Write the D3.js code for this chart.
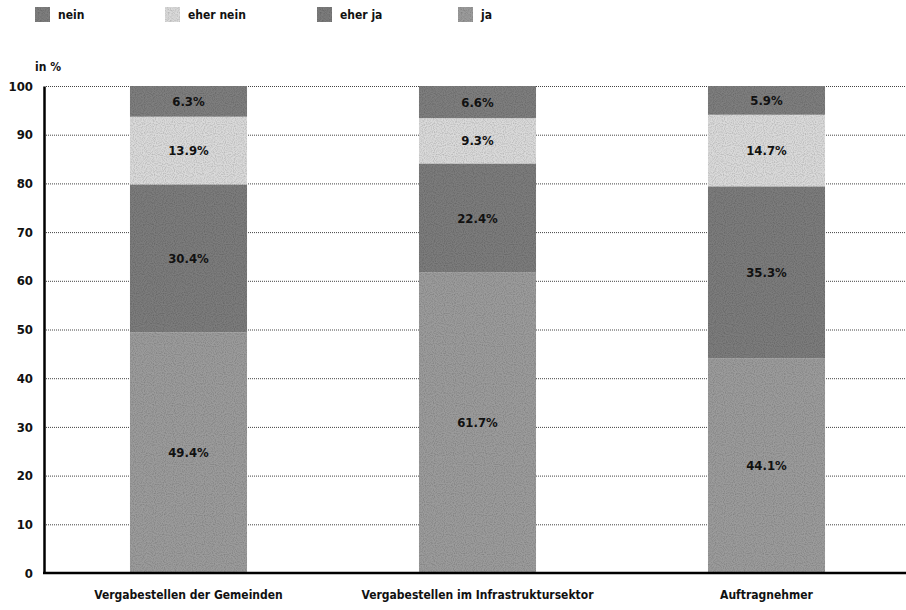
<!DOCTYPE html>
<html>
<head>
<meta charset="utf-8">
<script src="https://cdn.jsdelivr.net/npm/d3@7/dist/d3.min.js"></script>
<style>
  html, body { margin: 0; padding: 0; background: #fff; }
  svg { display: block; }
  text { font-family: "DejaVu Sans Condensed", "Liberation Sans Narrow", sans-serif; font-weight: bold; }
</style>
</head>
<body>
<svg id="chart" width="906" height="610"></svg>
<script>
// Survey answers, shares in percent
const categories = ["Vergabestellen der Gemeinden", "Vergabestellen im Infrastruktursektor", "Auftragnehmer"];
const seriesNames = ["ja", "eher ja", "eher nein", "nein"];   // stacked bottom to top
const ja       = [49.4, 61.7, 44.1];
const eherJa   = [30.4, 22.4, 35.3];
const eherNein = [13.9, 9.3, 14.7];
const nein     = [6.3, 6.6, 5.9];
const yTicks   = [0, 10, 20, 30, 40, 50, 60, 70, 80, 90, 100];
const legendOrder = ["nein", "eher nein", "eher ja", "ja"];

const seriesValues = { "ja": ja, "eher ja": eherJa, "eher nein": eherNein, "nein": nein };
const colors = { "ja": "#9b9b9b", "eher ja": "#7b7b7b", "eher nein": "#dadada", "nein": "#7e7e7e" };

const svg = d3.select("#chart");
const W = 906;
const margin = { left: 44, right: -5, top: 86, bottom: 573 };

// Grain texture for the bar fills
const defs = svg.append("defs");
const f = defs.append("filter").attr("id", "grain").attr("x", 0).attr("y", 0).attr("width", 1).attr("height", 1);
f.append("feTurbulence").attr("type", "fractalNoise").attr("baseFrequency", 0.9).attr("numOctaves", 1).attr("seed", 3).attr("result", "noise");
f.append("feColorMatrix").attr("in", "noise").attr("type", "matrix")
  .attr("values", "0 0 0 0 0  0 0 0 0 0  0 0 0 0 0  0 0 0 -2.2 1.35").attr("result", "dark");
f.append("feComposite").attr("in", "dark").attr("in2", "SourceGraphic").attr("operator", "in").attr("result", "darkIn");
f.append("feComponentTransfer").attr("in", "darkIn").attr("result", "darkSoft")
  .append("feFuncA").attr("type", "linear").attr("slope", 0.35);
const merge = f.append("feMerge");
merge.append("feMergeNode").attr("in", "SourceGraphic");
merge.append("feMergeNode").attr("in", "darkSoft");

const x = d3.scaleBand()
  .domain(categories)
  .range([44, 911])
  .paddingInner(0.595)
  .paddingOuter(0.2975);

const y = d3.scaleLinear().domain([0, 100]).range([573, 86]);

// Dotted grid lines
svg.append("g")
  .selectAll("line")
  .data(yTicks.filter(t => t > 0))
  .join("line")
  .attr("x1", 46).attr("x2", W)
  .attr("y1", d => y(d) + 0.5).attr("y2", d => y(d) + 0.5)
  .attr("stroke", "#444")
  .attr("stroke-width", 1)
  .attr("stroke-dasharray", "1,1");

// Stacked bars
const rows = categories.map((c, i) => {
  const r = { category: c };
  seriesNames.forEach(s => r[s] = seriesValues[s][i]);
  return r;
});
const stacked = d3.stack().keys(seriesNames)(rows);

const layers = svg.append("g").selectAll("g")
  .data(stacked)
  .join("g")
  .attr("fill", d => colors[d.key]);

layers.selectAll("rect")
  .data(d => d)
  .join("rect")
  .attr("x", d => x(d.data.category))
  .attr("width", x.bandwidth())
  .attr("y", d => y(d[1]))
  .attr("height", d => y(d[0]) - y(d[1]))
  .attr("filter", "url(#grain)");

// Value labels
svg.append("g").selectAll("g")
  .data(stacked)
  .join("g")
  .selectAll("text")
  .data(d => d.map(v => ({ v, key: d.key })))
  .join("text")
  .attr("x", d => x(d.v.data.category) + x.bandwidth() / 2)
  .attr("y", d => y((d.v[0] + d.v[1]) / 2))
  .attr("dy", "0.35em")
  .attr("text-anchor", "middle")
  .attr("font-size", 13)
  .attr("fill", "#111")
  .text(d => d3.format(".1f")(d.v.data[d.key]) + "%");

// Axes
const yAxis = svg.append("g")
  .attr("transform", "translate(44,0)")
  .call(d3.axisLeft(y).tickValues(yTicks).tickSize(0).tickPadding(11));
yAxis.select(".domain").attr("stroke", "#000").attr("stroke-width", 2.5);
yAxis.selectAll("text").attr("font-size", 13).attr("fill", "#111")
  .style("font-family", "'DejaVu Sans Condensed', sans-serif").style("font-weight", "bold");

const xAxis = svg.append("g")
  .attr("transform", "translate(0,573)")
  .call(d3.axisBottom(x).tickSize(0).tickPadding(17));
xAxis.select(".domain").attr("d", `M43,0H${W}`).attr("stroke", "#000").attr("stroke-width", 2.5);
xAxis.selectAll("text").attr("font-size", 12).attr("fill", "#111")
  .style("font-family", "'DejaVu Sans Condensed', sans-serif").style("font-weight", "bold");

// Unit label
svg.append("text")
  .attr("x", 35).attr("y", 71)
  .attr("font-size", 12).attr("fill", "#111")
  .text("in %");

// Legend
const legendX = [35, 165, 317, 458];
const legend = svg.append("g").selectAll("g")
  .data(legendOrder)
  .join("g")
  .attr("transform", (d, i) => `translate(${legendX[i]},7)`);
legend.append("rect")
  .attr("width", 15).attr("height", 15)
  .attr("fill", d => colors[d])
  .attr("filter", "url(#grain)");
legend.append("text")
  .attr("x", 23).attr("y", 12)
  .attr("font-size", 12).attr("fill", "#111")
  .text(d => d);
</script>
</body>
</html>
